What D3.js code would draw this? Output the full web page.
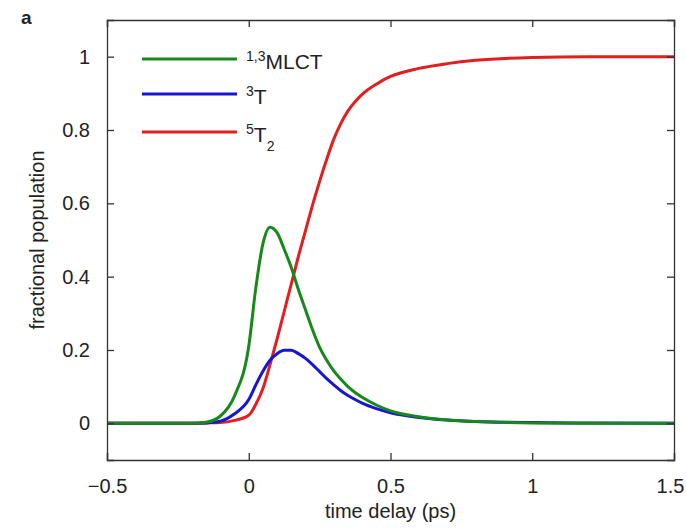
<!DOCTYPE html>
<html>
<head>
<meta charset="utf-8">
<script src="https://cdn.jsdelivr.net/npm/d3@7"></script>
<style>
  body { margin: 0; background: #fff; }
  text { font-family: "Liberation Sans", Arial, sans-serif; fill: #222; }
</style>
</head>
<body>
<div id="chart"></div>
<script>
// sample times (ps)
const times = [-0.5, -0.2, -0.15, -0.1, -0.05, 0, 0.025, 0.05, 0.075, 0.1, 0.125, 0.15, 0.175, 0.2, 0.225, 0.25, 0.275, 0.3, 0.325, 0.35, 0.375, 0.4, 0.45, 0.5, 0.6, 0.7, 0.8, 1.0, 1.2, 1.5];
// fractional populations
const mlct = [0, 0, 0.003, 0.02, 0.075, 0.21, 0.37, 0.49, 0.535, 0.52, 0.475, 0.425, 0.365, 0.31, 0.255, 0.207, 0.172, 0.143, 0.12, 0.10, 0.084, 0.071, 0.05, 0.034, 0.018, 0.009, 0.005, 0.001, 0, 0];
const t3 = [0, 0, 0.001, 0.006, 0.026, 0.065, 0.105, 0.142, 0.172, 0.19, 0.199, 0.199, 0.19, 0.177, 0.16, 0.141, 0.122, 0.105, 0.089, 0.076, 0.065, 0.055, 0.04, 0.029, 0.016, 0.009, 0.005, 0.002, 0.001, 0];
const t52 = [0, 0, 0.001, 0.002, 0.008, 0.022, 0.052, 0.095, 0.16, 0.23, 0.305, 0.38, 0.455, 0.525, 0.595, 0.66, 0.72, 0.775, 0.818, 0.852, 0.877, 0.897, 0.925, 0.946, 0.968, 0.981, 0.99, 0.998, 1.0, 1.0];

const xTicks = [-0.5, 0, 0.5, 1, 1.5];
const yTicks = [0, 0.2, 0.4, 0.6, 0.8, 1];

const series = [
  { sup: "1,3", main: "MLCT", sub: "", values: mlct, color: "#17881a" },
  { sup: "3", main: "T", sub: "", values: t3, color: "#1616d2" },
  { sup: "5", main: "T", sub: "2", values: t52, color: "#e21e1e" }
];

const width = 686, height = 528;
const margin = { top: 20, right: 12, bottom: 68, left: 107 };

const svg = d3.select("#chart").append("svg")
  .attr("width", width)
  .attr("height", height);

const x = d3.scaleLinear().domain([-0.5, 1.5]).range([margin.left, width - margin.right]);
const y = d3.scaleLinear().domain([-0.1, 1.1]).range([height - margin.bottom, margin.top]);

const fmt = d => d === 0 ? "0" : (d < 0 ? "\u2212" + Math.abs(d) : String(d));

// curves (drawn first, frame on top)
const line = d3.line()
  .x((d, i) => x(times[i]))
  .y(d => y(d))
  .curve(d3.curveMonotoneX);

series.slice().reverse().forEach(s => {
  svg.append("path")
    .attr("d", line(s.values))
    .attr("fill", "none")
    .attr("stroke", s.color)
    .attr("stroke-width", 3);
});

// axes with inward ticks
const tickLen = 7;
const xAxis = svg.append("g")
  .attr("transform", `translate(0,${y(-0.1)})`)
  .call(d3.axisBottom(x).tickValues(xTicks).tickSize(-tickLen).tickPadding(19).tickFormat(fmt));
svg.append("g")
  .attr("transform", `translate(0,${y(1.1)})`)
  .call(d3.axisTop(x).tickValues(xTicks).tickSize(-tickLen).tickFormat(""));
svg.append("g")
  .attr("transform", `translate(${x(-0.5)},0)`)
  .call(d3.axisLeft(y).tickValues(yTicks).tickSize(-tickLen).tickPadding(17).tickFormat(fmt));
svg.append("g")
  .attr("transform", `translate(${x(1.5)},0)`)
  .call(d3.axisRight(y).tickValues(yTicks).tickSize(-tickLen).tickFormat(""));

svg.selectAll(".domain").attr("stroke", "#333").attr("stroke-width", 1.3);
svg.selectAll(".tick line").attr("stroke", "#333").attr("stroke-width", 1.3);
svg.selectAll(".tick text").style("font-size", "20px").style("fill", "#222")
  .style("font-family", "'Liberation Sans', Arial, sans-serif");

// keep the last label inside the page
xAxis.selectAll(".tick text").filter(d => d === 1.5).attr("dx", -4);

// axis titles
svg.append("text")
  .attr("x", (x(-0.5) + x(1.5)) / 2)
  .attr("y", 518)
  .attr("text-anchor", "middle")
  .style("font-size", "20px")
  .text("time delay (ps)");

svg.append("text")
  .attr("transform", `translate(44,${y(0.5)}) rotate(-90)`)
  .attr("text-anchor", "middle")
  .style("font-size", "20px")
  .text("fractional population");

// panel label
svg.append("text")
  .attr("x", 21)
  .attr("y", 24)
  .style("font-size", "19px")
  .style("font-weight", "bold")
  .text("a");

// legend
const legY = [59, 94, 132];
series.forEach((s, i) => {
  svg.append("line")
    .attr("x1", 142).attr("x2", 237)
    .attr("y1", legY[i]).attr("y2", legY[i])
    .attr("stroke", s.color)
    .attr("stroke-width", 3);
  const t = svg.append("text")
    .attr("x", 246)
    .attr("y", legY[i] + 10)
    .style("font-size", "21px");
  t.append("tspan").attr("dy", -8).style("font-size", "14px").text(s.sup);
  t.append("tspan").attr("dy", 8).text(s.main);
  if (s.sub) {
    t.append("tspan").attr("dy", 9).style("font-size", "14px").text(s.sub);
  }
});
</script>
</body>
</html>
